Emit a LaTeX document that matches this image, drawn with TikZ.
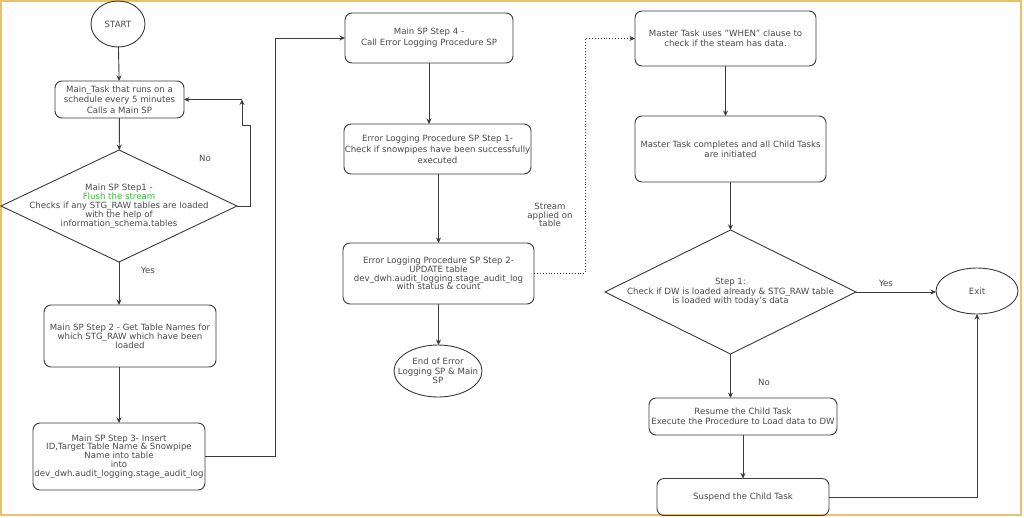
\documentclass[tikz,border=0pt]{standalone}
\usepackage{fontspec}
\setmainfont{DejaVu Sans}
\usetikzlibrary{shapes.geometric,arrows.meta}
\definecolor{linec}{HTML}{3A3A3A}
\definecolor{txtc}{HTML}{4A4A4A}
\definecolor{gold}{HTML}{E6C26E}
\definecolor{flush}{HTML}{3DBE3D}
\tikzset{
  base/.style={draw=linec, line width=0.9pt, inner sep=0pt, outer sep=0pt, align=center,
    text=txtc, font=\fontsize{8.6}{9.6}\selectfont},
  box/.style={base, rectangle, rounded corners=7pt},
  oval/.style={base, ellipse},
  dia/.style={base, diamond},
  lbl/.style={inner sep=0pt, align=center, text=txtc, font=\fontsize{8.6}{9.6}\selectfont},
  conn/.style={draw=linec, line width=0.9pt, -{Stealth[length=5.5pt,width=5pt]}},
  dotconn/.style={conn, dotted},
}
\begin{document}
\begin{tikzpicture}[x=1pt,y=-1pt]
\useasboundingbox (0,0) rectangle (1024,517);
\fill[white] (0,0) rectangle (1024,517);
\draw[gold, line width=2pt] (1,1) rectangle (1021,515);

% column 1
\node[oval, minimum width=54pt, minimum height=46pt] (start) at (118,24) {START};
\node[box, minimum width=129pt, minimum height=37pt, font=\fontsize{8.6}{10.3}\selectfont] (main) at (119.5,99.5)
  {Main\_Task that runs on a\\schedule every 5 minutes\\Calls a Main SP};
\node[dia, minimum width=236pt, minimum height=112pt] (d1) at (119,206) {};
\node[lbl, font=\fontsize{8.6}{9}\selectfont] (d1t) at (d1) {Main SP Step1 -\\\textcolor{flush}{Flush the stream}\\Checks if any STG\_RAW tables are loaded\\with the help of\\information\_schema.tables};
\node[box, minimum width=172pt, minimum height=62pt, font=\fontsize{8.6}{9}\selectfont] (s2) at (130,336)
  {Main SP Step 2 - Get Table Names for\\which STG\_RAW which have been\\loaded};
\node[box, minimum width=172pt, minimum height=67pt, font=\fontsize{8.6}{8.8}\selectfont] (s3) at (119,456.5)
  {Main SP Step 3- Insert\\ID,Target Table Name \& Snowpipe\\Name into table\\into\\dev\_dwh.audit\_logging.stage\_audit\_log};
\node[lbl] (no1) at (205,158) {No};
\node[lbl] (yes1) at (148,270) {Yes};

% column 2
\node[box, minimum width=168pt, minimum height=50pt, font=\fontsize{8.6}{11}\selectfont] (s4) at (429,38)
  {Main SP Step 4 -\\Call Error Logging Procedure SP};
\node[box, minimum width=187pt, minimum height=50pt, font=\fontsize{8.6}{11}\selectfont] (e1) at (437.5,149)
  {Error Logging Procedure SP Step 1-\\Check if snowpipes have been successfully\\executed};
\node[box, minimum width=191pt, minimum height=61pt, font=\fontsize{8.6}{8.8}\selectfont] (e2) at (438.5,273.5)
  {Error Logging Procedure SP Step 2-\\UPDATE table\\dev\_dwh.audit\_logging.stage\_audit\_log\\with status \& count};
\node[oval, minimum width=88pt, minimum height=52pt] (endn) at (438,371) {};
\node[lbl] (endt) at (endn) {End of Error\\Logging SP \& Main\\SP};
\node[lbl, font=\fontsize{8.6}{8.8}\selectfont] (stream) at (550,215) {Stream\\applied on\\table};

% column 3
\node[box, minimum width=181pt, minimum height=55pt] (m1) at (725.5,38.5)
  {Master Task uses "WHEN" clause to\\check if the steam has data.};
\node[box, minimum width=191pt, minimum height=66pt] (m2) at (730.5,149)
  {Master Task completes and all Child Tasks\\are initiated};
\node[dia, minimum width=251pt, minimum height=124pt] (d2) at (730.5,292) {};
\node[lbl] (d2t) at (d2) {Step 1:\\Check if DW is loaded already \& STG\_RAW table\\is loaded with today's data};
\node[box, minimum width=188pt, minimum height=37pt] (res) at (743,416.5)
  {Resume the Child Task\\Execute the Procedure to Load data to DW};
\node[box, minimum width=172pt, minimum height=37pt] (sus) at (743,497) {Suspend the Child Task};
\node[oval, minimum width=82pt, minimum height=46pt] (exit) at (977,291) {Exit};
\node[lbl] (yes2) at (886,283) {Yes};
\node[lbl] (no2) at (764,382) {No};

% loop coordinates
\coordinate (l1) at (250,206);
\coordinate (l2) at (250,125);
\coordinate (l3) at (242,125);
\coordinate (l4) at (242,99.5);
\coordinate (c1) at (275,456.5);
\coordinate (c2) at (585,273.5);

% connectors
\draw[conn] (start) -- (main);
\draw[conn] (main) -- (d1);
\draw[conn] (d1.east) -- (l1) -- (l2) -- (l3) -- (l4);
\draw[conn] (l4) -- (main.east);
\draw[conn] (d1.south) -- (d1.south |- s2.north);
\draw[conn] (s2.south -| s3.north) -- (s3.north);
\draw[conn] (s3.east) -- (c1) |- (s4.west);
\draw[conn] (s4.south) -- (s4.south |- e1.north);
\draw[conn] (e1.south -| e2.north) -- (e2.north);
\draw[conn] (e2.south) -- (e2.south |- endn.north);
\draw[dotconn] (e2.east) -- (c2) |- (m1.west);
\draw[conn] (m1.south) -- (m1.south |- m2.north);
\draw[conn] (m2.south) -- (d2.north);
\draw[conn] (d2.east) -- (d2.east -| exit.west);
\draw[conn] (d2.south) -- (d2.south |- res.north);
\draw[conn] (res.south) -- (sus.north);
\draw[conn] (sus.east) -| (exit.south);
\end{tikzpicture}
\end{document}
